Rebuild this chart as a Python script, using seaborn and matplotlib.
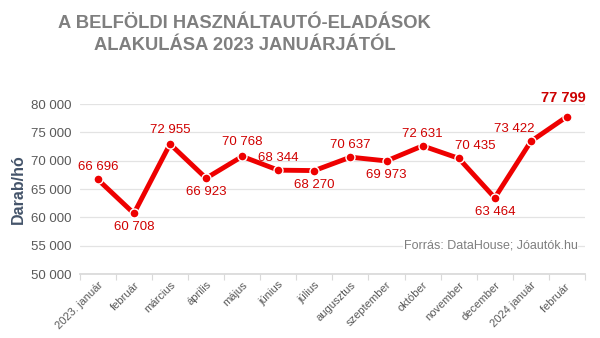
import matplotlib
matplotlib.use("Agg")
import matplotlib.pyplot as plt
import seaborn as sns
import pandas as pd
import numpy as np

months = ["2023. január", "február", "március", "április", "május", "június",
          "július", "augusztus", "szeptember", "október", "november",
          "december", "2024 január", "február "]
sales = [66696, 60708, 72955, 66923, 70768, 68344, 68270, 70637, 69973,
         72631, 70435, 63464, 73422, 77799]
# label placement: (dx px, dy px)
label_offsets = [(0, 12), (0, -14), (0, 14), (0, -14), (0, 14), (0, 12),
                 (0, -14), (0, 12), (0, -14), (0, 12), (17, 12), (0, -14),
                 (-17, 12), (-4, 19)]

sns.set_theme(style="white")
plt.rcParams["font.family"] = ["Liberation Sans", "DejaVu Sans"]

df = pd.DataFrame({"honap": months, "darab": sales})
df["x"] = np.arange(len(df))

fig = plt.figure(figsize=(6, 3.38), dpi=100)
ax = fig.add_axes([0.133, 0.189, 0.842, 0.503])

sns.lineplot(data=df, x="x", y="darab", ax=ax, color="#ee0000", linewidth=3.5,
             marker="o", markersize=6.5, markeredgecolor="white",
             markeredgewidth=1.0, zorder=3)

ax.set_xlim(-0.5, len(df) - 0.5)
ax.set_ylim(50000, 80000)
ax.set_yticks(range(50000, 80001, 5000))
ax.set_yticklabels([f"{v:,}".replace(",", " ") for v in range(50000, 80001, 5000)],
                   color="#595959", fontsize=9.5)
ax.set_xticks(df["x"])
ax.set_xticklabels(months, rotation=45, ha="right", rotation_mode="anchor",
                   color="#595959", fontsize=8)
ax.set_xticks(np.arange(-0.5, len(df), 1.0), minor=True)
ax.tick_params(axis="x", which="major", length=0, pad=4)
ax.tick_params(axis="x", which="minor", length=4, color="#d9d9d9", width=0.8,
               bottom=True)
ax.tick_params(axis="y", length=0, pad=6)
ax.grid(axis="y", color="#e3e3e3", linewidth=0.9, zorder=0)
for s in ["top", "right", "left"]:
    ax.spines[s].set_visible(False)
ax.spines["bottom"].set_color("#d9d9d9")
ax.set_xlabel("")
ax.set_ylabel("Darab/hó", fontsize=11.5, fontweight="bold", color="#44546a",
              labelpad=4)

for i, (v, (dx, dy)) in enumerate(zip(sales, label_offsets)):
    last = i == len(sales) - 1
    ax.annotate(f"{v:,}".replace(",", " "), (i, v), xytext=(dx * 0.72, dy * 0.72),
                textcoords="offset points", ha="center", va="center",
                color="#d00000" if not last else "#cc0000",
                fontsize=10.5 if last else 9.5,
                fontweight="bold" if last else "normal", zorder=4)

ax.text(0.985, 55000, "Forrás: DataHouse; Jóautók.hu", ha="right", va="center",
        color="#7f7f7f", fontsize=9, transform=ax.get_yaxis_transform(),
        bbox=dict(facecolor="white", edgecolor="none", pad=0.5), zorder=2)

fig.text(0.408, 0.898, "A BELFÖLDI HASZNÁLTAUTÓ-ELADÁSOK\nALAKULÁSA 2023 JANUÁRJÁTÓL",
         ha="center", va="center", fontsize=13.2, fontweight="bold",
         color="#7f7f7f", linespacing=1.45)

fig.savefig("out.png", dpi=100)
